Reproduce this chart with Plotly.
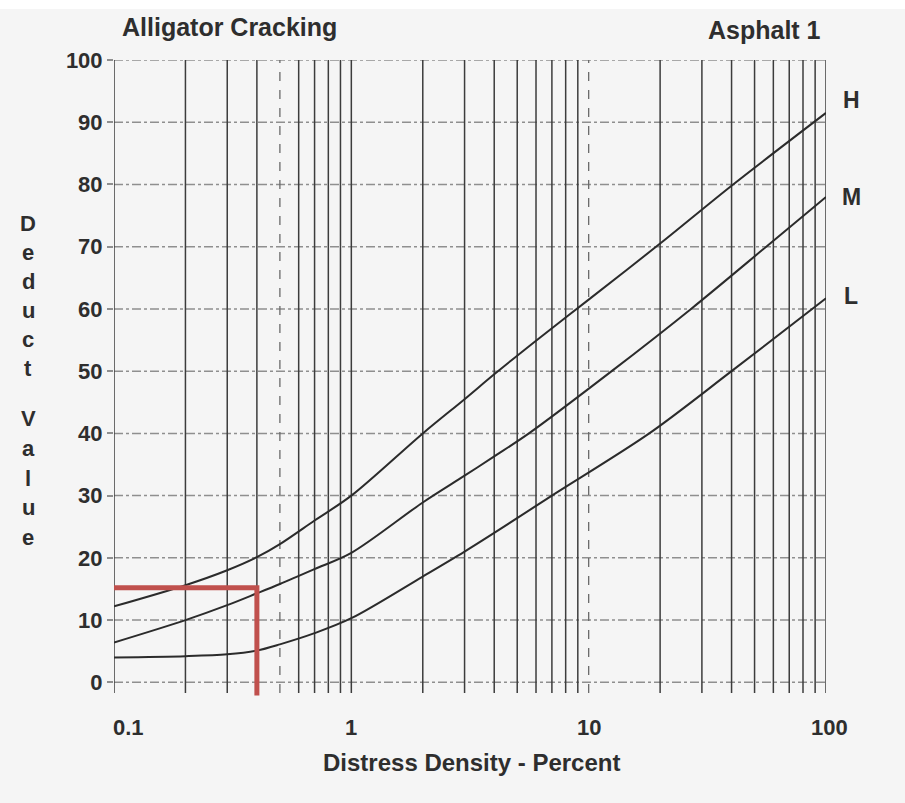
import plotly.graph_objects as go
import math

# ---- data ----
h_x = [0.1, 0.2, 0.3, 0.4, 0.5, 0.7, 1, 2, 3, 4, 6, 10, 20, 40, 100]
h_y = [12.2, 15.6, 18, 20.1, 22.2, 26, 30, 40, 45.5, 49.5, 54.9, 61.5, 70.5, 79.8, 91.5]
m_x = [0.1, 0.2, 0.3, 0.4, 0.5, 0.7, 1, 2, 3, 4, 5.6, 12.5, 27, 56, 100]
m_y = [6.4, 10, 12.4, 14.3, 15.8, 18.2, 20.8, 28.9, 33.2, 36.3, 40, 50, 60, 70, 78]
l_x = [0.1, 0.2, 0.3, 0.4, 0.5, 0.7, 1, 2, 3, 4, 7, 18, 40, 100]
l_y = [4, 4.2, 4.5, 5.1, 6.1, 7.9, 10.3, 17, 21, 24, 30, 40, 50, 61.7]

red_density = 0.4
red_deduct = 15.2
red_bottom = -2.1

x_grid_solid = [0.1, 0.2, 0.3, 0.4, 0.6, 0.7, 0.8, 0.9, 1, 2, 3, 4, 5, 6, 7, 8, 9,
                20, 30, 40, 50, 60, 70, 80, 90, 100]
x_grid_dashed = [0.5, 10]
y_grid = [0, 10, 20, 30, 40, 50, 60, 70, 80, 90, 100]
x_tick_vals = [0.1, 1, 10, 100]
x_tick_text = ["0.1", "1", "10", "100"]
curve_labels = ["H", "M", "L"]
curve_label_y = [93.5, 78, 62]

FONT = "Liberation Sans"
TXT = "#2e2e2e"


def py(pix):
    """pixel row -> paper y"""
    return (696 - pix) / 636


def px(pix):
    """pixel column -> paper x"""
    return (pix - 114) / 712


fig = go.Figure()

# horizontal grid (dash-dot)
gx, gy = [], []
for v in y_grid:
    gx += [0.1, 100, None]
    gy += [v, v, None]
fig.add_trace(go.Scatter(x=gx, y=gy, mode="lines", hoverinfo="skip",
                         line=dict(color="#8f8f8f", width=1.5, dash="dashdot"),
                         showlegend=False))

# vertical grid
vx, vy = [], []
for v in x_grid_solid:
    vx += [v, v, None]
    vy += [-1.7, 100, None]
fig.add_trace(go.Scatter(x=vx, y=vy, mode="lines", hoverinfo="skip",
                         line=dict(color="#3c3c3c", width=1.5),
                         showlegend=False))
dx, dy = [], []
for v in x_grid_dashed:
    dx += [v, v, None]
    dy += [-1.7, 100, None]
fig.add_trace(go.Scatter(x=dx, y=dy, mode="lines", hoverinfo="skip",
                         line=dict(color="#6a6a6a", width=1.3, dash="dash"),
                         showlegend=False))

# curves
for xs, ys in [(h_x, h_y), (m_x, m_y), (l_x, l_y)]:
    fig.add_trace(go.Scatter(x=xs, y=ys, mode="lines", line_shape="spline",
                             line=dict(color="#2b2b2b", width=2, smoothing=0.9),
                             showlegend=False))

# red marking
fig.add_trace(go.Scatter(x=[0.1, red_density, red_density],
                         y=[red_deduct, red_deduct, red_bottom],
                         mode="lines", line=dict(color="#c0504d", width=5),
                         showlegend=False))

ann = []
ann.append(dict(text="Alligator Cracking", xref="paper", yref="paper",
                x=px(120), y=py(27), xanchor="left", yanchor="middle",
                showarrow=False, font=dict(family=FONT, size=25, color=TXT, weight="bold")))
ann.append(dict(text="Asphalt 1", xref="paper", yref="paper",
                x=px(823), y=py(30), xanchor="right", yanchor="middle",
                showarrow=False, font=dict(family=FONT, size=25, color=TXT, weight="bold")))
for v, t in zip(x_tick_vals, x_tick_text):
    ann.append(dict(text=t, x=math.log10(v), y=py(727), xref="x", yref="paper",
                    xanchor="center", yanchor="middle", showarrow=False,
                    xshift=14 if v == 0.1 else (3 if v == 100 else 0),
                    font=dict(family=FONT, size=22, color=TXT, weight="bold")))
ann.append(dict(text="Distress Density - Percent", xref="paper", yref="paper",
                x=px(471), y=py(762), xanchor="center", yanchor="middle",
                showarrow=False, font=dict(family=FONT, size=24, color=TXT, weight="bold")))
for i, ch in enumerate("Deduct"):
    ann.append(dict(text=ch, xref="paper", yref="paper",
                    x=px(28), y=py(223 + i * 29.2),
                    xanchor="center", yanchor="middle", showarrow=False,
                    font=dict(family=FONT, size=22, color=TXT, weight="bold")))
for i, ch in enumerate("Value"):
    ann.append(dict(text=ch, xref="paper", yref="paper",
                    x=px(28), y=py(419 + i * 29.5),
                    xanchor="center", yanchor="middle", showarrow=False,
                    font=dict(family=FONT, size=22, color=TXT, weight="bold")))
for t, yv in zip(curve_labels, curve_label_y):
    ann.append(dict(text=t, xref="paper", yref="y", x=px(851), y=yv,
                    xanchor="center", yanchor="middle", showarrow=False,
                    font=dict(family=FONT, size=23, color=TXT, weight="bold")))

fig.update_layout(
    width=905, height=803,
    margin=dict(l=114, r=79, t=60, b=107),
    paper_bgcolor="#f5f5f5", plot_bgcolor="rgba(0,0,0,0)",
    annotations=ann,
    shapes=[dict(type="rect", xref="paper", yref="paper", layer="below",
                 x0=-0.3, x1=1.2, y0=py(9), y1=1.2,
                 fillcolor="white", line=dict(width=0))],
    xaxis=dict(type="log", range=[-1, 2], showgrid=False, zeroline=False,
               showticklabels=False, ticks="", showline=False),
    yaxis=dict(range=[-2.2, 100], showgrid=False, zeroline=False,
               tickvals=y_grid, ticks="outside", ticklen=6, tickcolor="#8f8f8f",
               tickwidth=1.5, showline=False,
               tickfont=dict(family=FONT, size=22, color=TXT, weight="bold")),
)

fig.write_html("out.html")
